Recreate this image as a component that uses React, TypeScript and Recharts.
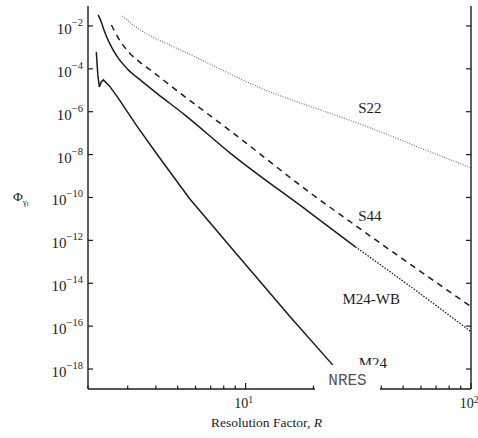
import { LineChart, Line, XAxis, YAxis, ReferenceDot } from "recharts";

// values (R, Φ)
const s22R = [2.842, 3.215, 3.788, 4.6, 5.37, 7.69, 11.59, 17.46, 27.1, 39.7, 58.0, 100];
const s22Phi = [2.92e-2, 1.0e-2, 3.42e-3, 1.3e-3, 6.14e-4, 9.9e-5, 1.29e-5, 2.58e-6, 5.16e-7, 1.15e-7, 2.3e-8, 2.42e-9];

const s44R = [2.54, 2.646, 2.814, 3.054, 3.384, 3.828, 4.846, 8.79, 19.35, 31.3, 55.7, 100];
const s44Phi = [1.11e-2, 4.72e-3, 1.61e-3, 5.52e-4, 2.1e-4, 8.0e-5, 1.16e-5, 1.03e-7, 1.65e-10, 4.3e-12, 5.9e-14, 8.1e-16];

const wbR = [2.22, 2.29, 2.363, 2.488, 2.7, 2.99, 3.45, 4.07, 5.37, 8.52, 19.35, 30.7];
const wbPhi = [3.26e-2, 1.53e-2, 5.85e-3, 1.61e-3, 3.59e-4, 9.9e-5, 2.73e-5, 6.78e-6, 7.13e-7, 1.21e-8, 1.93e-11, 5.0e-13];

const wbDotR = [30.7, 54.0, 100];
const wbDotPhi = [5.0e-13, 6.9e-15, 5.5e-17];

const m24R = [2.177, 2.211, 2.245, 2.291, 2.339, 2.488, 2.7, 3.315, 4.154, 5.65, 8.79, 15.76, 24.5, 26.9];
const m24Phi = [6.14e-4, 5.2e-5, 1.44e-5, 2.46e-5, 3.05e-5, 1.6e-5, 4.92e-6, 1.97e-7, 7.1e-9, 8.7e-11, 3.65e-13, 2.75e-16, 1.44e-18, 4.9e-19];

const xTicks = [2, 3, 4, 5, 6, 7, 8, 9, 10, 20, 30, 40, 50, 60, 70, 80, 90, 100];
const xMajor = [10, 100];
const yExponents = [-2, -4, -6, -8, -10, -12, -14, -16, -18];
const yTicks = yExponents.map((e) => Math.pow(10, e));

type Row = { r: number; [k: string]: number };

const rows: Row[] = [];
const add = (key: string, rs: number[], vs: number[]) =>
  rs.forEach((r, i) => rows.push({ r, [key]: vs[i] }));
add("s22", s22R, s22Phi);
add("s44", s44R, s44Phi);
add("wb", wbR, wbPhi);
add("wbDot", wbDotR, wbDotPhi);
add("m24", m24R, m24Phi);
rows.sort((a, b) => a.r - b.r);

const INK = "#1c1c1c";
const FONT = "'Liberation Serif', 'DejaVu Serif', serif";

const exponentOf = (v: number) => Math.round(Math.log10(v));
const sup = (n: number) => (n < 0 ? "\u2212" + Math.abs(n) : String(n));

function BottomTick({ x, y, payload }: any) {
  const major = xMajor.includes(payload.value);
  return (
    <g>
      <line x1={x} y1={y} x2={x} y2={y - (major ? 6 : 3.5)} stroke={INK} strokeWidth={1.2} />
      {major && (
        <text x={x - 2} y={y + 19} textAnchor="middle" fontFamily={FONT} fontSize={14} fill={INK}>
          10
          <tspan dy={-5} fontSize={9.5}>
            {sup(exponentOf(payload.value))}
          </tspan>
        </text>
      )}
    </g>
  );
}

function TopTick({ x, y, payload }: any) {
  const major = xMajor.includes(payload.value);
  return <line x1={x} y1={y} x2={x} y2={y + (major ? 6 : 3.5)} stroke={INK} strokeWidth={1.2} />;
}

function LeftTick({ x, y, payload }: any) {
  return (
    <g>
      <line x1={x} y1={y} x2={x + 5} y2={y} stroke={INK} strokeWidth={1.2} />
      <text x={x - 5} y={y + 8} textAnchor="end" fontFamily={FONT} fontSize={15} fill={INK}>
        10
        <tspan dy={-8} fontSize={10.5}>
          {sup(exponentOf(payload.value))}
        </tspan>
      </text>
    </g>
  );
}

function RightTick({ x, y }: any) {
  return <line x1={x} y1={y} x2={x - 5} y2={y} stroke={INK} strokeWidth={1.2} />;
}

function CurveLabel({ viewBox, value }: any) {
  return (
    <text
      x={viewBox.x}
      y={viewBox.y + 5}
      textAnchor="middle"
      fontFamily={FONT}
      fontSize={15}
      fill={INK}
    >
      {value}
    </text>
  );
}

const axisLine = { stroke: INK, strokeWidth: 1.4 };

export default function App() {
  return (
    <div style={{ position: "absolute", left: 0, top: 0, width: 478, height: 438, background: "#fff" }}>
      <LineChart width={478} height={438} data={rows} margin={{ top: 6, right: 0, bottom: 0, left: 0 }}>
        <XAxis
          xAxisId="bottom"
          dataKey="r"
          type="number"
          scale="log"
          domain={[2, 100]}
          allowDataOverflow
          ticks={xTicks}
          interval={0}
          tick={<BottomTick />}
          tickLine={false}
          tickSize={0}
          tickMargin={0}
          height={49}
          axisLine={axisLine}
          label={{
            value: "Resolution Factor, R",
            content: ({ viewBox }: any) => (
              <text
                x={viewBox.x + viewBox.width / 2 - 13}
                y={viewBox.y + 38}
                textAnchor="middle"
                fontFamily={FONT}
                fontSize={13.5}
                fill={INK}
              >
                Resolution Factor,{" "}
                <tspan fontStyle="italic">R</tspan>
              </text>
            ),
          }}
        />
        <XAxis
          xAxisId="top"
          orientation="top"
          dataKey="r"
          type="number"
          scale="log"
          domain={[2, 100]}
          allowDataOverflow
          ticks={xTicks}
          interval={0}
          tick={<TopTick />}
          tickLine={false}
          tickSize={0}
          tickMargin={0}
          height={0}
          axisLine={axisLine}
        />
        <YAxis
          yAxisId="left"
          type="number"
          scale="log"
          domain={[1.17e-19, 8.5e-2]}
          allowDataOverflow
          ticks={yTicks}
          interval={0}
          tick={<LeftTick />}
          tickLine={false}
          tickSize={0}
          tickMargin={0}
          width={88}
          axisLine={axisLine}
          label={{
            value: "Φ",
            content: ({ viewBox }: any) => (
              <text x={13} y={viewBox.y + 195} fontFamily={FONT} fontSize={13.5} fill={INK}>
                Φ
                <tspan dy={4} fontSize={8.5}>
                  γ
                </tspan>
                <tspan dy={1} fontSize={6.5}>
                  i
                </tspan>
              </text>
            ),
          }}
        />
        <YAxis
          yAxisId="right"
          orientation="right"
          type="number"
          scale="log"
          domain={[1.17e-19, 8.5e-2]}
          allowDataOverflow
          ticks={yTicks}
          interval={0}
          tick={<RightTick />}
          tickLine={false}
          tickSize={0}
          tickMargin={0}
          width={7}
          axisLine={axisLine}
        />

        <Line
          xAxisId="bottom"
          yAxisId="left"
          dataKey="s22"
          type="monotone"
          connectNulls
          dot={false}
          stroke="#777"
          strokeWidth={1.2}
          strokeDasharray="1 1.5"
          isAnimationActive={false}
        />
        <Line
          xAxisId="bottom"
          yAxisId="left"
          dataKey="s44"
          type="monotone"
          connectNulls
          dot={false}
          stroke={INK}
          strokeWidth={1.5}
          strokeDasharray="6 5"
          isAnimationActive={false}
        />
        <Line
          xAxisId="bottom"
          yAxisId="left"
          dataKey="wb"
          type="monotone"
          connectNulls
          dot={false}
          stroke={INK}
          strokeWidth={1.5}
          isAnimationActive={false}
        />
        <Line
          xAxisId="bottom"
          yAxisId="left"
          dataKey="wbDot"
          type="monotone"
          connectNulls
          dot={false}
          stroke={INK}
          strokeWidth={1.3}
          strokeDasharray="1.5 1.5"
          isAnimationActive={false}
        />
        <Line
          xAxisId="bottom"
          yAxisId="left"
          dataKey="m24"
          type="linear"
          connectNulls
          dot={false}
          stroke={INK}
          strokeWidth={1.5}
          isAnimationActive={false}
        />

        <ReferenceDot xAxisId="bottom" yAxisId="left" x={35.6} y={1.5e-6} r={0} fill="none" stroke="none" label={<CurveLabel value="S22" />} />
        <ReferenceDot xAxisId="bottom" yAxisId="left" x={35.6} y={1.4e-11} r={0} fill="none" stroke="none" label={<CurveLabel value="S44" />} />
        <ReferenceDot xAxisId="bottom" yAxisId="left" x={36.1} y={1.9e-15} r={0} fill="none" stroke="none" label={<CurveLabel value="M24-WB" />} />
        <ReferenceDot xAxisId="bottom" yAxisId="left" x={36.7} y={2e-18} r={0} fill="none" stroke="none" label={<CurveLabel value="M24" />} />
      </LineChart>
      <div
        style={{
          position: "absolute",
          left: 315,
          top: 365,
          width: 65,
          height: 33,
          background: "#fff",
          fontFamily: "'Liberation Mono', 'DejaVu Sans Mono', monospace",
          fontSize: 16,
          color: "#555",
          lineHeight: "33px",
          textAlign: "center",
        }}
      >
        NRES
      </div>
    </div>
  );
}
